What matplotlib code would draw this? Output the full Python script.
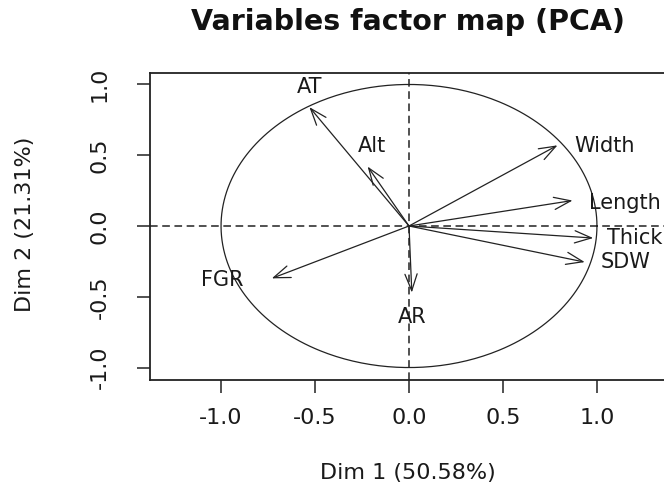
import numpy as np
import matplotlib
matplotlib.use("Agg")
import matplotlib.pyplot as plt
from matplotlib.patches import FancyArrowPatch

# Data: variable coordinates on Dim 1 / Dim 2
variables = ["AT", "Alt", "Width", "Length", "Thick", "SDW", "AR", "FGR"]
dim1 = [-0.53, -0.22, 0.79, 0.87, 0.98, 0.935, 0.015, -0.73]
dim2 = [0.84, 0.42, 0.57, 0.18, -0.085, -0.255, -0.47, -0.37]
# label anchor positions (data coordinates) and alignments
label_x = [-0.527, -0.197, 0.88, 0.957, 1.055, 1.022, 0.015, -0.995]
label_y = [0.985, 0.565, 0.565, 0.163, -0.085, -0.254, -0.64, -0.38]
label_ha = ["center", "center", "left", "left", "left", "left", "center", "center"]

xticks = [-1.0, -0.5, 0.0, 0.5, 1.0]
yticks = [-1.0, -0.5, 0.0, 0.5, 1.0]
xlabel = "Dim 1 (50.58%)"
ylabel = "Dim 2 (21.31%)"
title = "Variables factor map (PCA)"

plt.rcParams['font.family'] = ['DejaVu Sans']
W, H = 664, 488
fig = plt.figure(figsize=(W / 100, H / 100), dpi=100)
ax = fig.add_axes([150 / W, (H - 380) / H, (668 - 150) / W, (380 - 73) / H])
ax.set_xlim(-1.378, 1.378)
ax.set_ylim(-1.088, 1.081)

txtc = "#1a1a1a"
# circle
t = np.linspace(0, 2 * np.pi, 400)
ax.plot(np.cos(t), np.sin(t), color="#222222", lw=0.9)
# dashed axes
ax.axhline(0, color="#222222", lw=1.1, ls=(0, (5, 3)))
ax.axvline(0, color="#222222", lw=1.1, ls=(0, (5, 3)))

for x, y in zip(dim1, dim2):
    arr = FancyArrowPatch((0, 0), (x, y), arrowstyle="->,head_length=0.6,head_width=0.22",
                          mutation_scale=20, color="#222222", lw=0.9, shrinkA=0, shrinkB=0)
    ax.add_patch(arr)

for name, lx, ly, ha in zip(variables, label_x, label_y, label_ha):
    ax.text(lx, ly, name, ha=ha, va="center", fontsize=15, color=txtc, clip_on=False)

ax.set_xticks(xticks)
ax.set_yticks(yticks)
ax.set_xticklabels([f"{v:.1f}" for v in xticks])
ax.set_yticklabels([f"{v:.1f}" for v in yticks], rotation=90, va="center")
ax.tick_params(axis="both", length=9.5, width=1.1, labelsize=16, colors="#222222", labelcolor=txtc)
ax.tick_params(axis="x", pad=11)
ax.tick_params(axis="y", pad=19.5)
for s in ax.spines.values():
    s.set_linewidth(1.3)
    s.set_color("#222222")

fig.text(25 / W, (H - 224) / H, ylabel, rotation=90, ha="center", va="center", fontsize=16, color=txtc)
fig.text(408 / W, (H - 473) / H, xlabel, ha="center", va="center", fontsize=16, color=txtc)
fig.text(408 / W, (H - 22) / H, title, ha="center", va="center", fontsize=20.5, fontweight="bold", color="#111111")

fig.savefig("out.png", dpi=100)
